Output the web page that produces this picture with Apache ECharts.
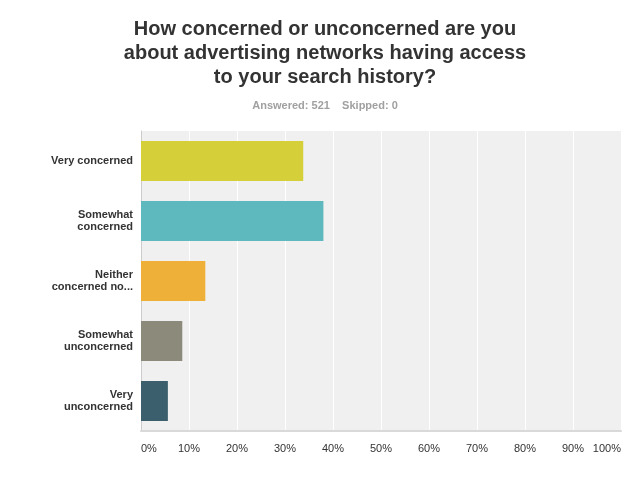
<!DOCTYPE html>
<html>
<head>
<meta charset="utf-8">
<script src="https://cdn.jsdelivr.net/npm/echarts@6/dist/echarts.min.js"></script>
<style>html,body{margin:0;padding:0;background:#fff}#c{width:640px;height:498px}</style>
</head>
<body>
<div id="c"></div>
<script>
const categories = ["Very concerned", "Somewhat\nconcerned", "Neither\nconcerned no...", "Somewhat\nunconcerned", "Very\nunconcerned"];
const values = [33.8, 38.0, 13.4, 8.6, 5.6];
const colors = ["#d5cf3a", "#5db9be", "#efb03a", "#8c8a7a", "#3b5f6d"];
const tickLabels = ["0%", "10%", "20%", "30%", "40%", "50%", "60%", "70%", "80%", "90%", "100%"];

const chart = echarts.init(document.getElementById('c'), null, {renderer: 'canvas'});
chart.setOption({
  animation: false,
  backgroundColor: '#ffffff',
  title: [{
    text: "How concerned or unconcerned are you\nabout advertising networks having access\nto your search history?",
    left: 320, top: 12, textAlign: 'center',
    textStyle: {fontFamily: '"Liberation Sans", Arial, sans-serif', fontWeight: 'bold', fontSize: 20, lineHeight: 24, color: '#333333', align: 'center'}
  }, {
    text: "Answered: 521    Skipped: 0",
    left: 320, top: 94, textAlign: 'center',
    textStyle: {fontFamily: '"Liberation Sans", Arial, sans-serif', fontWeight: 'bold', fontSize: 11, lineHeight: 14, color: '#a0a0a0'}
  }],
  grid: {left: 141, right: 19, top: 131, bottom: 67, show: true, backgroundColor: '#f0f0f0', borderWidth: 0, containLabel: false},
  xAxis: {
    type: 'value', min: 0, max: 100, interval: 10,
    axisLine: {show: true, lineStyle: {color: '#d9d9d9', width: 2}},
    axisTick: {show: false},
    splitLine: {show: true, lineStyle: {color: '#ffffff', width: 1}},
    axisLabel: {
      formatter: v => tickLabels[Math.round(v / 10)],
      fontFamily: '"Liberation Sans", Arial, sans-serif', fontSize: 11, color: '#333333', margin: 12,
      alignMinLabel: 'left', alignMaxLabel: 'right'
    }
  },
  yAxis: {
    type: 'category', data: categories, inverse: true,
    axisLine: {show: true, lineStyle: {color: '#cccccc', width: 1}},
    axisTick: {show: false},
    splitLine: {show: false},
    axisLabel: {fontFamily: '"Liberation Sans", Arial, sans-serif', fontWeight: 'bold', fontSize: 11, lineHeight: 12.5, color: '#333333', margin: 8}
  },
  series: [{
    type: 'bar',
    data: values.map((v, i) => ({value: v, itemStyle: {color: colors[i]}})),
    barWidth: 40,
    silent: true
  }]
});
</script>
</body>
</html>
